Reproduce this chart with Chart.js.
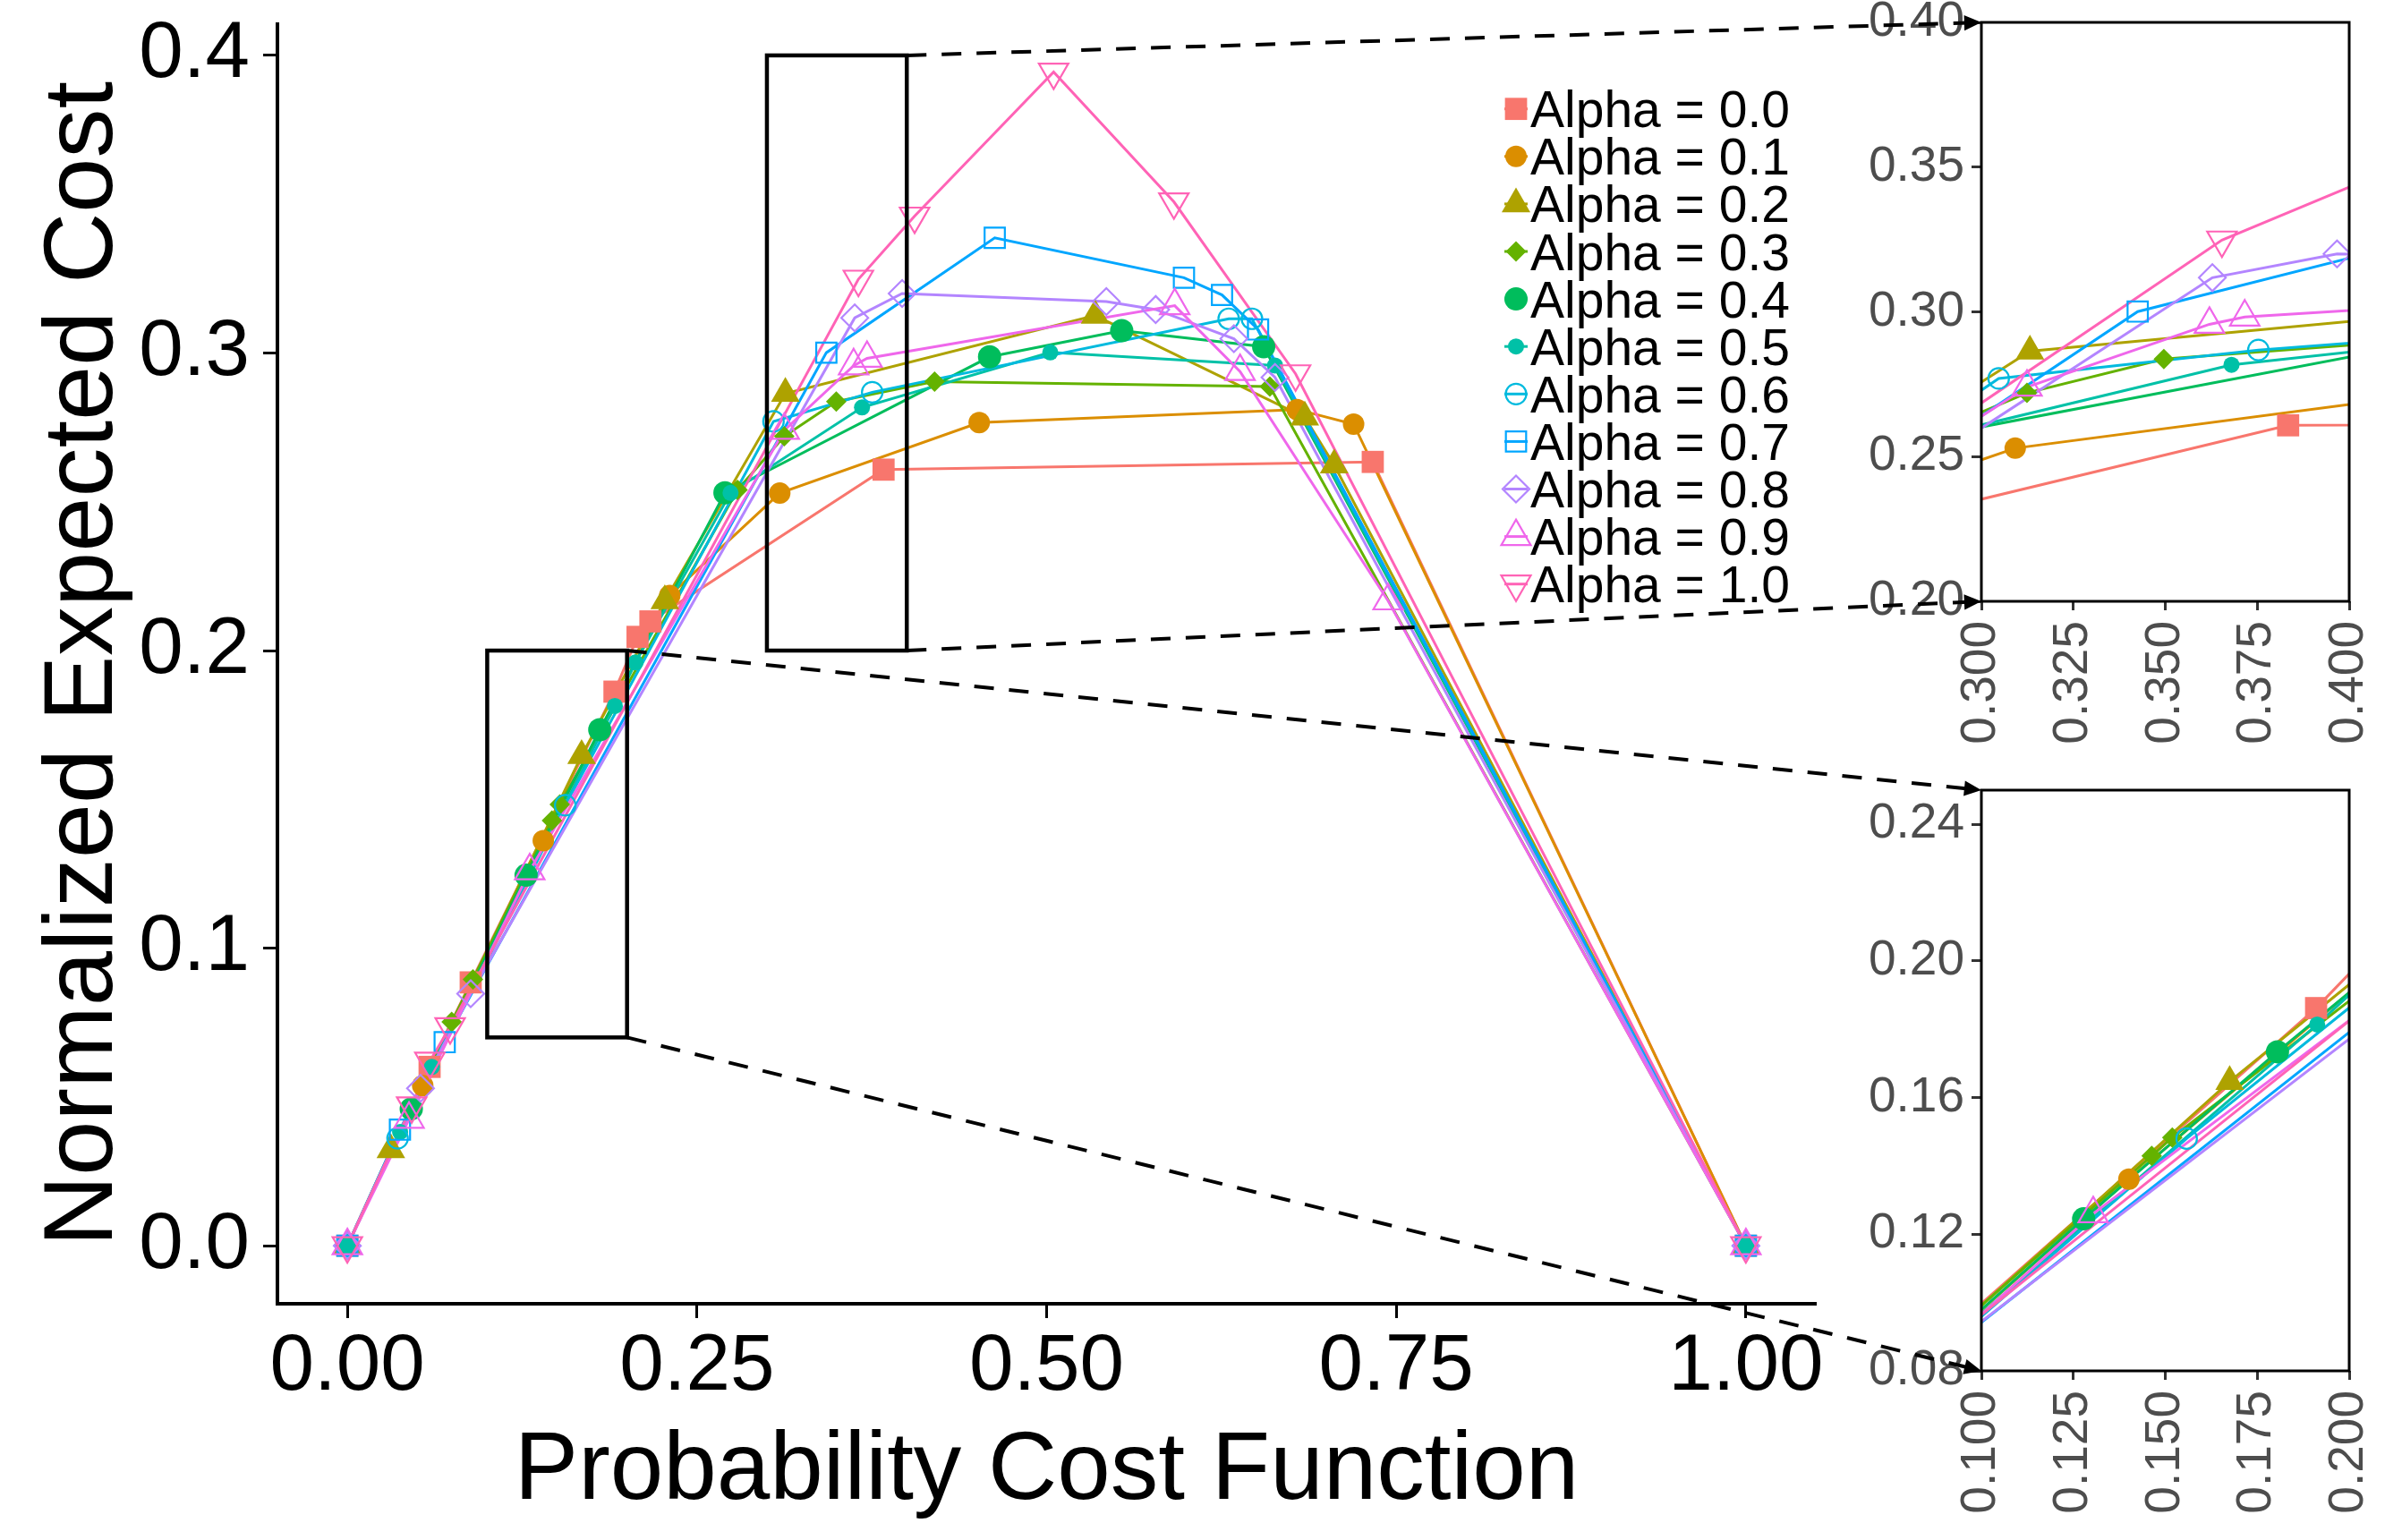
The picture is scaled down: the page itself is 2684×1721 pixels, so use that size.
<!DOCTYPE html>
<html>
<head>
<meta charset="utf-8">
<script src="https://cdn.jsdelivr.net/npm/chart.js@4.4.1/dist/chart.umd.min.js"></script>
<style>
  html, body { margin: 0; padding: 0; background: #fff; }
  #wrap { position: relative; width: 2684px; height: 1721px; overflow: hidden; }
  canvas { position: absolute; }
</style>
</head>
<body>
<div id="wrap">
  <canvas id="main" width="2100" height="1721" style="left:0;top:0"></canvas>
  <canvas id="zoomTop" width="684" height="860" style="left:2000px;top:0"></canvas>
  <canvas id="zoomBottom" width="684" height="861" style="left:2000px;top:860px"></canvas>
  <canvas id="links" width="2684" height="1721" style="left:0;top:0;pointer-events:none"></canvas>
</div>
<script>
// ---- data ----
const alphaLabels = ['Alpha = 0.0', 'Alpha = 0.1', 'Alpha = 0.2', 'Alpha = 0.3', 'Alpha = 0.4', 'Alpha = 0.5',
                     'Alpha = 0.6', 'Alpha = 0.7', 'Alpha = 0.8', 'Alpha = 0.9', 'Alpha = 1.0'];

const x00 = [0, 0.0588, 0.0882, 0.191, 0.2075, 0.2167, 0.3834, 0.7332, 1];
const y00 = [0, 0.0601, 0.0885, 0.1862, 0.2046, 0.2098, 0.2608, 0.2634, 0];
const x01 = [0, 0.0539, 0.1401, 0.2305, 0.3092, 0.4518, 0.6791, 0.7195, 1];
const y01 = [0, 0.0538, 0.1361, 0.2185, 0.2529, 0.2766, 0.2810, 0.2761, 0];
const x02 = [0, 0.0311, 0.1675, 0.227, 0.3132, 0.5346, 0.6846, 0.7056, 1];
const y02 = [0, 0.0322, 0.1647, 0.2167, 0.2864, 0.3126, 0.2784, 0.2623, 0];
const x03 = [0, 0.0746, 0.0898, 0.1463, 0.1519, 0.279, 0.3124, 0.3496, 0.4199, 0.6596, 1];
const y03 = [0, 0.0752, 0.0895, 0.1429, 0.1483, 0.254, 0.2720, 0.2837, 0.2904, 0.2887, 0];
const x04 = [0, 0.0457, 0.1278, 0.1805, 0.27, 0.4592, 0.5537, 0.6552, 1];
const y04 = [0, 0.046, 0.1245, 0.1734, 0.253, 0.2987, 0.3075, 0.3021, 0];
const x05 = [0, 0.0377, 0.0604, 0.1913, 0.206, 0.274, 0.368, 0.5026, 0.6633, 1];
const y05 = [0, 0.0382, 0.0601, 0.1814, 0.196, 0.253, 0.2817, 0.3002, 0.2958, 0];
const x06 = [0, 0.0359, 0.1558, 0.3047, 0.3753, 0.6302, 0.6468, 1];
const y06 = [0, 0.0361, 0.148, 0.277, 0.2868, 0.3115, 0.3115, 0];
const x07 = [0, 0.0376, 0.0696, 0.3425, 0.4629, 0.5982, 0.6254, 0.6512, 1];
const y07 = [0, 0.039, 0.0684, 0.3001, 0.3387, 0.3253, 0.3195, 0.3079, 0];
const x08 = [0, 0.0523, 0.0882, 0.3628, 0.3967, 0.5427, 0.578, 0.6339, 0.6633, 1];
const y08 = [0, 0.0529, 0.0847, 0.3118, 0.3200, 0.3173, 0.3146, 0.3048, 0.2918, 0];
const x09 = [0, 0.0441, 0.1304, 0.3124, 0.362, 0.3716, 0.5916, 0.6383, 0.7442, 1];
const y09 = [0, 0.0425, 0.126, 0.274, 0.2957, 0.2982, 0.3159, 0.2938, 0.2167, 0];
const x10 = [0, 0.046, 0.059, 0.0735, 0.3654, 0.4056, 0.505, 0.591, 0.678, 1];
const y10 = [0, 0.047, 0.062, 0.0736, 0.3248, 0.346, 0.3944, 0.3508, 0.293, 0];

const mainXTicks = [0, 0.25, 0.5, 0.75, 1];
const mainYTicks = [0, 0.1, 0.2, 0.3, 0.4];
const topXTicks = [0.3, 0.325, 0.35, 0.375, 0.4];
const topYTicks = [0.2, 0.25, 0.3, 0.35, 0.4];
const botXTicks = [0.1, 0.125, 0.15, 0.175, 0.2];
const botYTicks = [0.08, 0.12, 0.16, 0.2, 0.24];

// zoom boxes: [xmin, xmax, ymin, ymax]
const boxTop = [0.3, 0.4, 0.2, 0.4];
const boxBottom = [0.1, 0.2, 0.07, 0.2];

// ---- styles ----
const FONT = "'Liberation Sans', Arial, Helvetica, sans-serif";
const colors = ['#F8766D', '#DB8E00', '#AEA200', '#64B200', '#00BD5C', '#00C1A7',
                '#00BADE', '#00A6FF', '#B385FF', '#EF67EB', '#FF63B6'];
const markers = [
    { style: 'rect', r: 17.5 },
    { style: 'circle', r: 12 },
    { style: 'triangle', r: 18.5 },
    { style: 'rectRot', r: 11.5 },
    { style: 'circle', r: 13 },
    { style: 'circle', r: 9 },
    { style: 'circle', r: 11.5, open: true },
    { style: 'rect', r: 16, open: true },
    { style: 'rectRot', r: 15, open: true },
    { style: 'triangle', r: 19, open: true },
    { style: 'triangle', r: 19, open: true, rot: 180 }
];

const seriesX = [x00, x01, x02, x03, x04, x05, x06, x07, x08, x09, x10];
const seriesY = [y00, y01, y02, y03, y04, y05, y06, y07, y08, y09, y10];

function toPoints(xs, ys) {
    return xs.map((x, i) => ({ x: x, y: ys[i] }));
}

function buildDatasets(clip) {
    const sets = [];
    // lines first (higher order -> drawn underneath), later alphas on top
    seriesX.forEach((xs, i) => {
        sets.push({
            data: toPoints(xs, seriesY[i]),
            showLine: true,
            borderColor: colors[i],
            borderWidth: 3,
            pointRadius: 0,
            pointHoverRadius: 0,
            fill: false,
            clip: clip,
            order: 200 - i
        });
    });
    seriesX.forEach((xs, i) => {
        const m = markers[i];
        sets.push({
            data: toPoints(xs, seriesY[i]),
            showLine: false,
            pointStyle: m.style,
            pointRadius: m.r,
            pointHoverRadius: m.r,
            pointRotation: m.rot || 0,
            pointBackgroundColor: m.open ? 'rgba(0,0,0,0)' : colors[i],
            pointBorderColor: colors[i],
            pointBorderWidth: m.open ? 2.2 : 0,
            clip: clip,
            order: 100 - i
        });
    });
    return sets;
}

function fixedTicks(list) {
    return scale => { scale.ticks = list.map(v => ({ value: v })); };
}

// rectangles on the main panel
const zoomBoxes = {
    id: 'zoomBoxes',
    afterDatasetsDraw(chart) {
        const { ctx, scales: { x, y } } = chart;
        ctx.save();
        ctx.strokeStyle = '#000';
        ctx.lineWidth = 4.5;
        [boxTop, boxBottom].forEach(b => {
            const l = x.getPixelForValue(b[0]), r = x.getPixelForValue(b[1]);
            const t = y.getPixelForValue(b[3]), btm = y.getPixelForValue(b[2]);
            ctx.strokeRect(l, t, r - l, btm - t);
        });
        ctx.restore();
    }
};

// legend drawn inside the panel
const insideLegend = {
    id: 'insideLegend',
    afterDatasetsDraw(chart) {
        const ctx = chart.ctx;
        const drawPt = Chart.helpers && Chart.helpers.drawPoint;
        ctx.save();
        alphaLabels.forEach((label, i) => {
            const cy = 121.7 + 53.1 * i;
            const cx = 1694;
            ctx.strokeStyle = colors[i];
            ctx.lineWidth = 3;
            ctx.beginPath();
            ctx.moveTo(cx - 13, cy);
            ctx.lineTo(cx + 13, cy);
            ctx.stroke();
            const m = markers[i];
            ctx.fillStyle = m.open ? 'rgba(0,0,0,0)' : colors[i];
            ctx.strokeStyle = colors[i];
            ctx.lineWidth = m.open ? 2.2 : 0;
            if (drawPt) {
                drawPt(ctx, { pointStyle: m.style, radius: m.r, rotation: m.rot || 0, borderWidth: m.open ? 2.2 : 0 }, cx, cy);
            }
            ctx.fillStyle = '#000';
            ctx.font = '57px ' + FONT;
            ctx.textBaseline = 'alphabetic';
            ctx.textAlign = 'left';
            ctx.fillText(label, 1710, cy + 20.5);
        });
        ctx.restore();
    }
};

// black frame around inset panels
const panelFrame = {
    id: 'panelFrame',
    afterDatasetsDraw(chart) {
        const { ctx, chartArea: a } = chart;
        ctx.save();
        ctx.strokeStyle = '#000';
        ctx.lineWidth = 3;
        ctx.strokeRect(a.left, a.top, a.right - a.left, a.bottom - a.top);
        ctx.restore();
    }
};

const mainChart = new Chart(document.getElementById('main'), {
    type: 'scatter',
    data: { datasets: buildDatasets(false) },
    options: {
        responsive: false,
        animation: false,
        events: [],
        layout: { padding: { left: 0, top: 27, right: 71, bottom: 0 }, autoPadding: false },
        plugins: { legend: { display: false }, tooltip: { enabled: false } },
        scales: {
            x: {
                type: 'linear', min: -0.05, max: 1.05,
                afterBuildTicks: fixedTicks(mainXTicks),
                afterFit: s => { s.height = 264; s.paddingLeft = 0; s.paddingRight = 0; },
                ticks: { callback: v => Number(v).toFixed(2), font: { family: FONT, size: 89 }, color: '#000',
                         padding: 2, maxRotation: 0, minRotation: 0, autoSkip: false },
                grid: { drawOnChartArea: false, drawTicks: true, tickLength: 16, tickWidth: 3, tickColor: '#000' },
                border: { display: true, color: '#000', width: 4 },
                title: { display: true, text: 'Probability Cost Function', color: '#000',
                         font: { family: FONT, size: 107 }, padding: { top: 0, bottom: 11 } }
            },
            y: {
                type: 'linear', min: -0.0195, max: 0.4105,
                afterBuildTicks: fixedTicks(mainYTicks),
                afterFit: s => { s.width = 310; s.paddingTop = 0; s.paddingBottom = 0; },
                ticks: { callback: v => Number(v).toFixed(1), font: { family: FONT, size: 89 }, color: '#000', padding: 15 },
                grid: { drawOnChartArea: false, drawTicks: true, tickLength: 16, tickWidth: 3, tickColor: '#000' },
                border: { display: true, color: '#000', width: 4 },
                title: { display: true, text: 'Normalized Expected Cost', color: '#000',
                         font: { family: FONT, size: 110 }, padding: { top: 29, bottom: 0 } }
            }
        }
    },
    plugins: [zoomBoxes, insideLegend]
});

function insetOptions(xr, yr, xt, yt, xFmt, yFmt, top, xHeight) {
    const tickFont = { family: FONT, size: 55 };
    return {
        responsive: false,
        animation: false,
        events: [],
        layout: { padding: { left: 0, top: top, right: 59, bottom: 0 }, autoPadding: false },
        plugins: { legend: { display: false }, tooltip: { enabled: false } },
        scales: {
            x: {
                type: 'linear', min: xr[0], max: xr[1],
                afterBuildTicks: fixedTicks(xt),
                afterFit: s => { s.height = xHeight; s.paddingLeft = 0; s.paddingRight = 0; },
                ticks: { callback: v => Number(v).toFixed(xFmt), font: tickFont, color: '#4D4D4D',
                         padding: 12, minRotation: 90, maxRotation: 90, autoSkip: false },
                grid: { drawOnChartArea: false, drawTicks: true, tickLength: 10, tickWidth: 3, tickColor: '#333' },
                border: { display: false }
            },
            y: {
                type: 'linear', min: yr[0], max: yr[1],
                afterBuildTicks: fixedTicks(yt),
                afterFit: s => { s.width = 214; s.paddingTop = 0; s.paddingBottom = 0; },
                ticks: { callback: v => Number(v).toFixed(yFmt), font: tickFont, color: '#4D4D4D', padding: 8 },
                grid: { drawOnChartArea: false, drawTicks: true, tickLength: 11, tickWidth: 3, tickColor: '#333' },
                border: { display: false }
            }
        }
    };
}

const topChart = new Chart(document.getElementById('zoomTop'), {
    type: 'scatter',
    data: { datasets: buildDatasets(0) },
    options: insetOptions([0.3, 0.4], [0.2, 0.4], topXTicks, topYTicks, 3, 2, 25, 188),
    plugins: [panelFrame]
});

const bottomChart = new Chart(document.getElementById('zoomBottom'), {
    type: 'scatter',
    data: { datasets: buildDatasets(0) },
    options: insetOptions([0.1, 0.2], [0.08, 0.25], botXTicks, botYTicks, 3, 2, 23, 189),
    plugins: [panelFrame]
});

// dashed connectors with arrow heads, main panel -> insets
function drawArrow(ctx, x1, y1, x2, y2) {
    const ang = Math.atan2(y2 - y1, x2 - x1);
    const len = 21, spread = 0.42;
    ctx.setLineDash([22, 17]);
    ctx.lineWidth = 4;
    ctx.beginPath();
    ctx.moveTo(x1, y1);
    ctx.lineTo(x2 - len * 0.7 * Math.cos(ang), y2 - len * 0.7 * Math.sin(ang));
    ctx.stroke();
    ctx.setLineDash([]);
    ctx.beginPath();
    ctx.moveTo(x2, y2);
    ctx.lineTo(x2 - len * Math.cos(ang - spread), y2 - len * Math.sin(ang - spread));
    ctx.lineTo(x2 - len * Math.cos(ang + spread), y2 - len * Math.sin(ang + spread));
    ctx.closePath();
    ctx.fill();
}

const links = document.getElementById('links').getContext('2d');
links.strokeStyle = '#000';
links.fillStyle = '#000';
const mx = mainChart.scales.x, my = mainChart.scales.y;
const tx = topChart.scales.x, ty = topChart.scales.y;
const bx = bottomChart.scales.x, by = bottomChart.scales.y;

drawArrow(links, mx.getPixelForValue(boxTop[1]), my.getPixelForValue(boxTop[3]),
          2000 + tx.getPixelForValue(boxTop[0]), ty.getPixelForValue(0.4));
drawArrow(links, mx.getPixelForValue(boxTop[1]), my.getPixelForValue(boxTop[2]),
          2000 + tx.getPixelForValue(boxTop[0]), ty.getPixelForValue(0.2));
drawArrow(links, mx.getPixelForValue(boxBottom[1]), my.getPixelForValue(boxBottom[3]),
          2000 + bx.getPixelForValue(0.1), 860 + by.getPixelForValue(0.25));
drawArrow(links, mx.getPixelForValue(boxBottom[1]), my.getPixelForValue(boxBottom[2]),
          2000 + bx.getPixelForValue(0.1), 860 + by.getPixelForValue(0.08));
</script>
</body>
</html>
